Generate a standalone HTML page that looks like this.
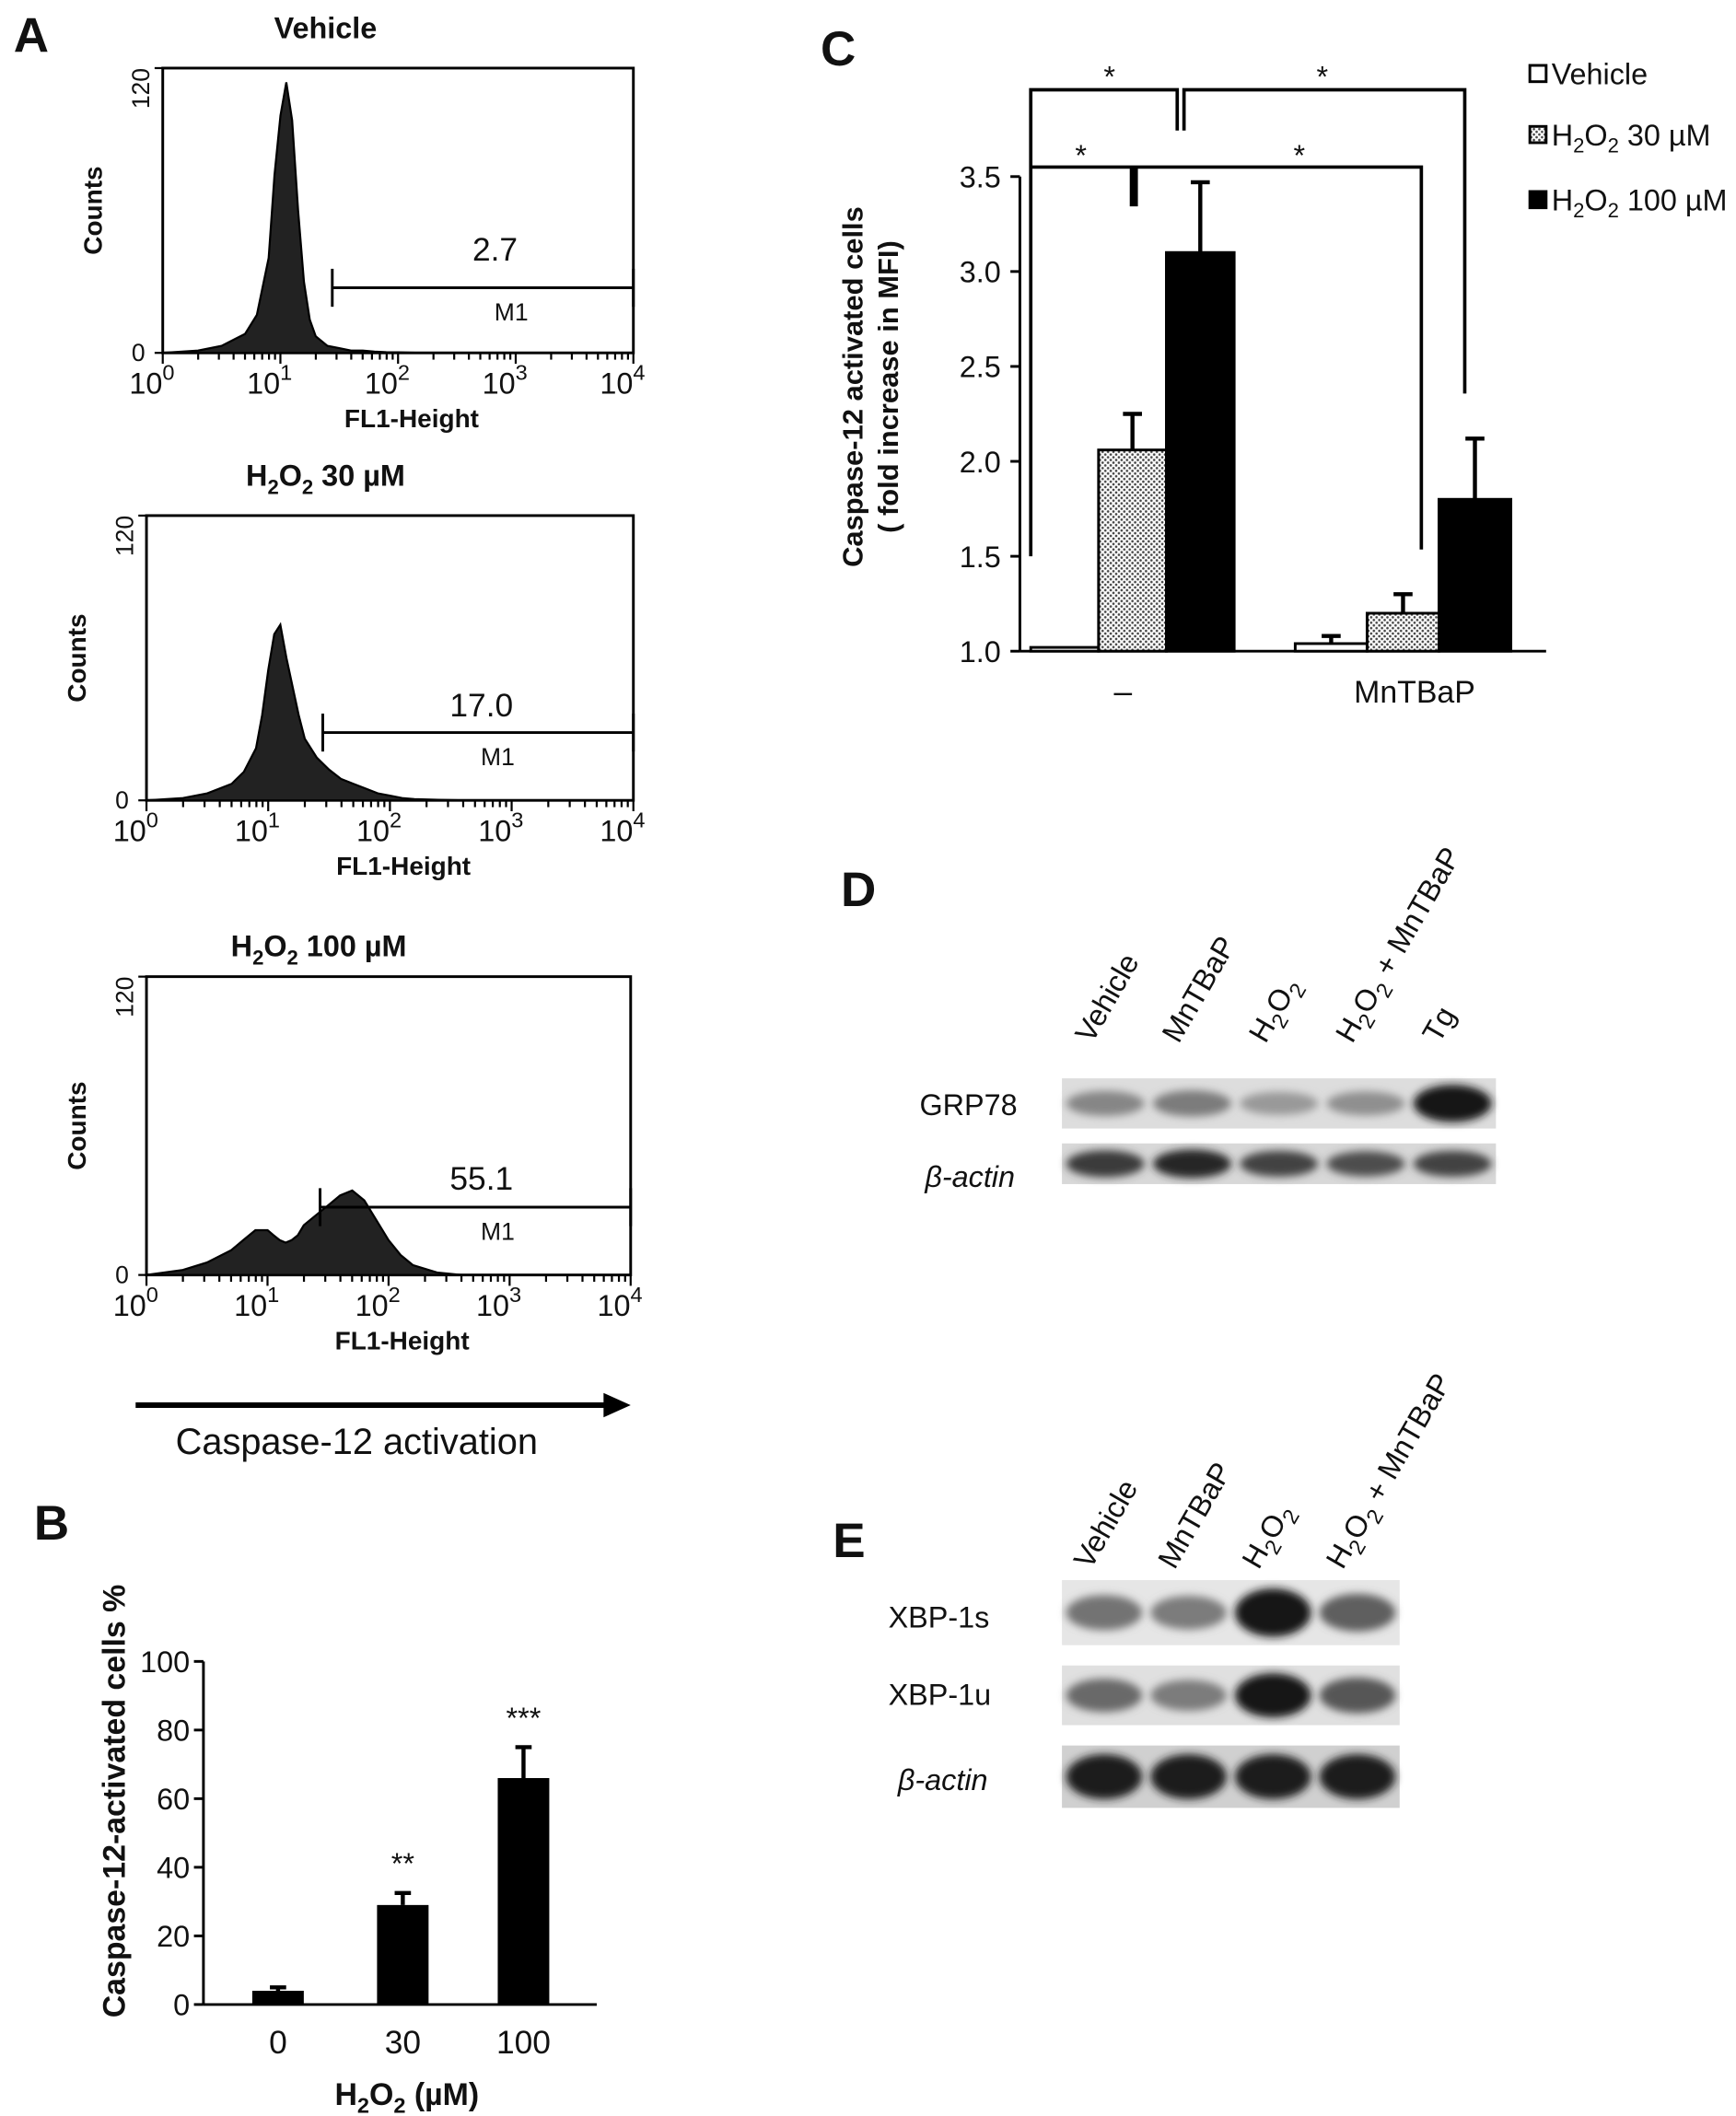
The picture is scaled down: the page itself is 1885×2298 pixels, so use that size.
<!DOCTYPE html>
<html><head><meta charset="utf-8">
<style>
html,body{margin:0;padding:0;background:#fff;}
svg{display:block;}
text{font-family:"Liberation Sans",sans-serif;fill:#111;}
.b{font-weight:bold;}
</style></head>
<body>
<svg id="fig" width="1885" height="2298" viewBox="0 0 1280 1560" xmlns="http://www.w3.org/2000/svg">
<defs>
<pattern id="dots" width="4" height="4" patternUnits="userSpaceOnUse"><rect width="4" height="4" fill="#fff"/><circle cx="1" cy="1" r="0.9" fill="#444"/><circle cx="3" cy="3" r="0.9" fill="#444"/></pattern>
<filter id="blur" x="-20%" y="-50%" width="140%" height="200%"><feGaussianBlur stdDeviation="3"/></filter>
</defs>
<g id="panelA"></g>
<g id="panelB"></g>
<g id="panelC"></g>
<g id="panelD"></g>
<g id="panelE"></g>
</svg>
<script>
// ---------- DATA ----------
const histLogX = [0,0.3,0.5,0.7,0.8,0.9,0.95,1.0,1.05,1.1,1.15,1.2,1.25,1.3,1.4,1.5,1.6,1.7,1.8,1.9,2.0,2.1,2.2,2.4,2.6,3.0,4.0];
const histVehicle = [0,1,3,8,16,40,75,100,114,98,60,30,14,7,3,2,1,1,0.5,0.3,0.2,0.1,0,0,0,0,0];
const hist30 = [0,1,3,7,12,22,36,55,70,74,60,48,36,26,18,13,9,7,5,3,2,1,0.5,0.2,0,0,0];
const hist100 = [0,2,5,10,14,18,18,18,16,14,13,14,16,20,24,28,32,34,30,22,14,8,4,1,0,0,0];
const histMarkers = ["2.7","17.0","55.1"];
const histTitles = ["Vehicle","H2O2 30","H2O2 100"];
const bCats = ["0","30","100"];
const bVals = [4,29,66];
const bErr = [1,3.5,9];
const bStars = ["","**","***"];
const bTicks = [0,20,40,60,80,100];
const cGroups = ["–","MnTBaP"];
const cSeries = ["Vehicle","H2O2 30 µM","H2O2 100 µM"];
const cVals = [[1.02,2.06,3.1],[1.04,1.2,1.8]];
const cErr = [[0,0.19,0.37],[0.04,0.1,0.32]];
const cTicks = [1.0,1.5,2.0,2.5,3.0,3.5];
const dLanes = ["Vehicle","MnTBaP","H2O2","H2O2 + MnTBaP","Tg"];
const dGRP78 = [0.35,0.4,0.25,0.3,0.95];
const dActin = [0.75,0.85,0.7,0.65,0.7];
const eLanes = ["Vehicle","MnTBaP","H2O2","H2O2 + MnTBaP"];
const eXbp1s = [0.45,0.4,0.95,0.55];
const eXbp1u = [0.5,0.4,0.95,0.6];
const eActin = [0.9,0.9,0.9,0.9];

const NS="http://www.w3.org/2000/svg";
function el(parent,tag,attrs,txt){const e=document.createElementNS(NS,tag);for(const k in attrs)e.setAttribute(k,attrs[k]);if(txt!==undefined)e.textContent=txt;parent.appendChild(e);return e;}

const A=document.getElementById('panelA');
const lbl=el(A,'text',{x:10,y:38,'font-size':36,class:'b'},'A');


const frames=[
 {x0:120,x1:467,y0:50,y1:260,ty:28,tx:240,mk:245,my:212,lx:365,ly:192,data:histVehicle,max:120},
 {x0:108,x1:467,y0:380,y1:590,ty:358,tx:240,mk:238,my:540,lx:355,ly:528,data:hist30,max:120},
 {x0:108,x1:465,y0:720,y1:940,ty:705,tx:235,mk:236,my:890,lx:355,ly:877,data:hist100,max:120}
];
frames.forEach((f,i)=>{
  const g=el(A,'g',{});
  
  
  const t=el(g,'text',{x:f.tx,y:f.ty,'font-size':22,class:'b','text-anchor':'middle'});
  if(i===0){t.textContent='Vehicle';}
  else{el(t,'tspan',{},'H');el(t,'tspan',{dy:6,'font-size':15},'2');el(t,'tspan',{dy:-6},'O');el(t,'tspan',{dy:6,'font-size':15},'2');el(t,'tspan',{dy:-6},'  '+(i===1?'30':'100')+' µM');}
  
  
  el(g,'rect',{x:f.x0,y:f.y0,width:f.x1-f.x0,height:f.y1-f.y0,fill:'none',stroke:'#000','stroke-width':2});
  const sx=v=>f.x0+(v/4)*(f.x1-f.x0);
  const sy=v=>f.y1-(v/f.max)*(f.y1-f.y0);
  let d='M'+sx(0)+','+f.y1;
  histLogX.forEach((v,j)=>{d+=' L'+sx(v).toFixed(1)+','+sy(f.data[j]).toFixed(1);});
  d+=' L'+sx(4)+','+f.y1+'Z';
  const p=el(g,'path',{d:d,fill:'#222',stroke:'#000','stroke-width':1.5});
  
  
  for(let k=0;k<=4;k++){
    for(let m=1;m<10;m++){const lx=k+Math.log10(m);if(lx>4)break;el(g,'line',{x1:sx(lx),x2:sx(lx),y1:f.y1,y2:f.y1+(m===1?8:5),stroke:'#000','stroke-width':1.5});}
    const tl=el(g,'text',{x:sx(k)-8,y:f.y1+30,'font-size':22,'text-anchor':'middle'},'10');
    el(tl,'tspan',{dy:-10,'font-size':16},k===0?'0':String(k));
  }
  el(g,'text',{x:(f.x0+f.x1)/2+10,y:f.y1+55,'font-size':19,class:'b','text-anchor':'middle'},'FL1-Height');
  el(g,'text',{transform:`translate(${f.x0-10},${f.y0}) rotate(-90)`,'font-size':18,'text-anchor':'end'},'120');
  el(g,'text',{x:f.x0-18,y:f.y1+6,'font-size':18,'text-anchor':'middle'},'0');
  el(g,'text',{transform:`translate(${f.x0-45},${(f.y0+f.y1)/2}) rotate(-90)`,'font-size':19,class:'b','text-anchor':'middle'},'Counts');
  el(g,'line',{x1:f.x0-6,x2:f.x0,y1:f.y0,y2:f.y0,stroke:'#000','stroke-width':1.5});
  el(g,'line',{x1:f.x0-6,x2:f.x0,y1:f.y1,y2:f.y1,stroke:'#000','stroke-width':1.5});
  const mk=el(g,'g',{});
  
  
  el(mk,'line',{x1:f.mk,x2:f.x1,y1:f.my,y2:f.my,stroke:'#000','stroke-width':2});
  el(mk,'line',{x1:f.mk,x2:f.mk,y1:f.my-14,y2:f.my+14,stroke:'#000','stroke-width':2});
  el(mk,'line',{x1:f.x1,x2:f.x1,y1:f.my-14,y2:f.my+14,stroke:'#000','stroke-width':2});
  el(mk,'text',{x:f.lx,y:f.ly,'font-size':24,'text-anchor':'middle'},histMarkers[i]);
  el(mk,'text',{x:f.lx+12,y:f.my+24,'font-size':18,'text-anchor':'middle'},'M1');
});
const arr=el(A,'g',{});


el(arr,'line',{x1:100,x2:450,y1:1036,y2:1036,stroke:'#000','stroke-width':4});
el(arr,'polygon',{points:'445,1027 465,1036 445,1045',fill:'#000'});
el(arr,'text',{x:263,y:1072,'font-size':27,'text-anchor':'middle'},'Caspase-12 activation');

const B=document.getElementById('panelB');
el(B,'text',{x:25,y:1135,'font-size':36,class:'b'},'B');
const bX0=150,bX1=440,bY0=1478,bY1=1225;
const bCx=[205,297,386];
const bY=v=>bY0-(v/100)*(bY0-bY1);
el(B,'line',{x1:bX0,x2:bX0,y1:bY1,y2:bY0,stroke:'#000','stroke-width':2});
el(B,'line',{x1:bX0,x2:bX1,y1:bY0,y2:bY0,stroke:'#000','stroke-width':2});
bTicks.forEach(t=>{el(B,'line',{x1:bX0-7,x2:bX0,y1:bY(t),y2:bY(t),stroke:'#000','stroke-width':2});el(B,'text',{x:bX0-10,y:bY(t)+8,'font-size':22,'text-anchor':'end'},String(t));});
bCats.forEach((c,i)=>{
  const g=el(B,'g',{});
  
  
  el(g,'rect',{x:bCx[i]-19,y:bY(bVals[i]),width:38,height:bY0-bY(bVals[i]),fill:'#000'});
  el(g,'line',{x1:bCx[i],x2:bCx[i],y1:bY(bVals[i]),y2:bY(bVals[i]+bErr[i]),stroke:'#000','stroke-width':3});
  el(g,'line',{x1:bCx[i]-6,x2:bCx[i]+6,y1:bY(bVals[i]+bErr[i]),y2:bY(bVals[i]+bErr[i]),stroke:'#000','stroke-width':3});
  if(bStars[i])el(g,'text',{x:bCx[i],y:bY(bVals[i]+bErr[i])-14,'font-size':22,'text-anchor':'middle'},bStars[i]);
  el(B,'text',{x:bCx[i],y:1514,'font-size':24,'text-anchor':'middle'},c);
});
const bxt=el(B,'text',{x:300,y:1552,'font-size':23,class:'b','text-anchor':'middle'},'H');
el(bxt,'tspan',{dy:6,'font-size':16},'2');el(bxt,'tspan',{dy:-6},'O');el(bxt,'tspan',{dy:6,'font-size':16},'2');el(bxt,'tspan',{dy:-6},' (µM)');


const byt=el(B,'text',{transform:'translate(92,1328) rotate(-90)','font-size':23,class:'b','text-anchor':'middle'},'Caspase-12-activated cells  %');



const C=document.getElementById('panelC');
el(C,'text',{x:605,y:48,'font-size':36,class:'b'},'C');
const cX0=752,cX1=1140,cY0=480,cY1=130;
const cY=v=>cY0-((v-1)/2.5)*(cY0-cY1);
const cStart=[760,955], cW=[50,53];
const cFill=['#fff','url(#dots)','#000'];
el(C,'line',{x1:cX0,x2:cX0,y1:cY1,y2:cY0,stroke:'#000','stroke-width':2});
el(C,'line',{x1:cX0,x2:cX1,y1:cY0,y2:cY0,stroke:'#000','stroke-width':2});
cTicks.forEach(t=>{el(C,'line',{x1:cX0-7,x2:cX0,y1:cY(t),y2:cY(t),stroke:'#000','stroke-width':2});el(C,'text',{x:cX0-14,y:cY(t)+8,'font-size':22,'text-anchor':'end'},t.toFixed(1));});
cGroups.forEach((gname,gi)=>{
  cVals[gi].forEach((v,si)=>{
    const x=cStart[gi]+si*cW[gi];
    const g=el(C,'g',{});
    
    
    el(g,'rect',{x:x,y:cY(v),width:cW[gi],height:cY0-cY(v),fill:cFill[si],stroke:'#000','stroke-width':2});
    if(cErr[gi][si]>0){const cx=x+cW[gi]/2,yt=cY(v+cErr[gi][si]);
      el(g,'line',{x1:cx,x2:cx,y1:cY(v),y2:yt,stroke:'#000','stroke-width':3});
      el(g,'line',{x1:cx-7,x2:cx+7,y1:yt,y2:yt,stroke:'#000','stroke-width':3});}
  });
});
el(C,'text',{x:828,y:518,'font-size':24,'text-anchor':'middle'},'–');
el(C,'text',{x:1043,y:518,'font-size':23,'text-anchor':'middle'},'MnTBaP');
const cyt=el(C,'text',{'font-size':21,class:'b','text-anchor':'middle',transform:'translate(636,285) rotate(-90)'},'Caspase-12 activated cells');


el(C,'text',{'font-size':21,class:'b','text-anchor':'middle',transform:'translate(662,285) rotate(-90)'},'( fold increase in MFI)');
const br=el(C,'g',{stroke:'#000','stroke-width':2.5,fill:'none'});


el(br,'path',{d:'M760,410 V66 H868 V96 M873,96 V66 H1080 V290'});
el(br,'path',{d:'M760,123 H1048 V405'});
el(br,'line',{x1:836,x2:836,y1:123,y2:152,'stroke-width':6});
[[818,64],[975,64],[797,122],[958,122]].forEach(p=>el(C,'text',{x:p[0],y:p[1],'font-size':22,'text-anchor':'middle'},'*'));
const leg=el(C,'g',{});


cSeries.forEach((s,i)=>{
  const y=[55,100,148][i];
  el(leg,'rect',{x:1128,y:y-7,width:12,height:12,fill:cFill[i],stroke:'#000','stroke-width':2});
  const t=el(leg,'text',{x:1144,y:y+7,'font-size':22});
  if(i===0)t.textContent='Vehicle';
  else{el(t,'tspan',{},'H');el(t,'tspan',{dy:5,'font-size':15},'2');el(t,'tspan',{dy:-5},'O');el(t,'tspan',{dy:5,'font-size':15},'2');el(t,'tspan',{dy:-5},i===1?' 30 µM':' 100 µM');}
  
  
});

function blot(parent,name,x0,x1,y0,y1,vals,bg){
  const g=el(parent,'g',{});
  
  
  el(g,'rect',{x:x0,y:y0,width:x1-x0,height:y1-y0,fill:bg});
  const w=(x1-x0)/vals.length;
  vals.forEach((v,i)=>{
    const c=Math.round(200-190*v);
    el(g,'ellipse',{cx:x0+w*(i+0.5),cy:(y0+y1)/2,rx:w*0.45,ry:(y1-y0)*(0.18+0.2*v),fill:`rgb(${c},${c},${c})`,filter:'url(#blur)'});
  });
}
function laneLabels(parent,x0,w,y,lanes){
  lanes.forEach((l,i)=>{
    const t=el(parent,'text',{transform:`translate(${x0+w*(i+0.5)-10},${y}) rotate(-60)`,'font-size':22});
    if(l.startsWith('H2O2')){el(t,'tspan',{},'H');el(t,'tspan',{dy:6,'font-size':16},'2');el(t,'tspan',{dy:-6},'O');el(t,'tspan',{dy:6,'font-size':16},'2');el(t,'tspan',{dy:-6},l.slice(4));}
    else t.textContent=l;
    
    
  });
}
const D=document.getElementById('panelD');
el(D,'text',{x:620,y:668,'font-size':36,class:'b'},'D');
laneLabels(D,783,64,770,dLanes);
blot(D,'grp78-blot',783,1103,795,832,dGRP78,'#ddd');
blot(D,'beta-actin-blot-d',783,1103,843,873,dActin,'#d8d8d8');
el(D,'text',{x:678,y:822,'font-size':22},'GRP78');
el(D,'text',{x:682,y:875,'font-size':22,'font-style':'italic'},'β-actin');
const E=document.getElementById('panelE');
el(E,'text',{x:614,y:1148,'font-size':36,class:'b'},'E');
laneLabels(E,783,62,1158,eLanes);
blot(E,'xbp1s-blot',783,1032,1165,1213,eXbp1s,'#e6e6e6');
blot(E,'xbp1u-blot',783,1032,1228,1272,eXbp1u,'#e0e0e0');
blot(E,'beta-actin-blot-e',783,1032,1287,1333,eActin,'#d0d0d0');
el(E,'text',{x:655,y:1200,'font-size':22},'XBP-1s');
el(E,'text',{x:655,y:1257,'font-size':22},'XBP-1u');
el(E,'text',{x:662,y:1320,'font-size':22,'font-style':'italic'},'β-actin');
</script>
</body></html>
